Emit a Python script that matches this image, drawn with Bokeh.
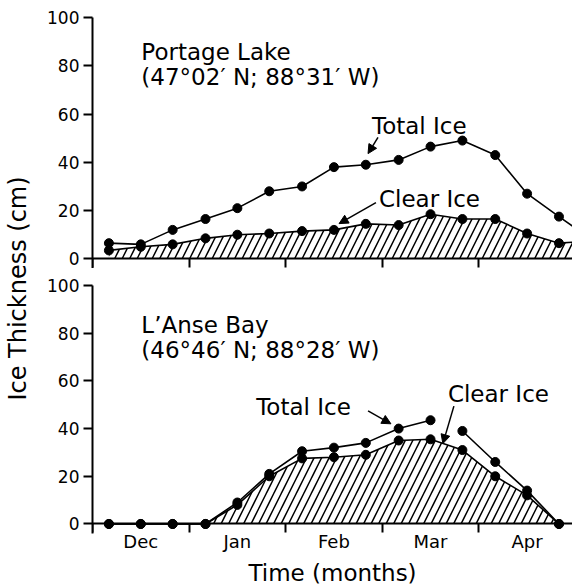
import math
from bokeh.plotting import figure
from bokeh.layouts import row, column
from bokeh.models import (Range1d, LinearAxis, FixedTicker, Label, Arrow,
                          NormalHead, ColumnDataSource)
from bokeh.core.properties import value
from bokeh.embed import file_html
from bokeh.resources import INLINE

FONT = "DejaVu Sans"

# sampling dates in months after 1 December (about the 5th, 15th, 25th of each month)
x_months = [0.17, 0.5, 0.83, 1.17, 1.5, 1.83, 2.17, 2.5, 2.83, 3.17, 3.5, 3.83, 4.17, 4.5, 4.83]
x_portage = x_months + [5.17]

# Portage Lake ice thickness (cm)
portage_total = [6.5, 6, 12, 16.5, 21, 28, 30, 38, 39, 41, 46.5, 49, 43, 27, 17.5, 8]
portage_clear = [3.5, 5, 6, 8.5, 10, 10.5, 11.5, 12, 14.5, 14, 18.5, 16.5, 16.5, 10.5, 6.5, 7.5]

# L'Anse Bay ice thickness (cm)
lanse_total = [0, 0, 0, 0, 9, 21, 30.5, 32, 34, 40, 43.5, 39, 26, 14, 0]
lanse_clear = [0, 0, 0, 0, 8, 20, 27.5, 28, 29, 35, 35.5, 31, 20, 12, 0]

month_names = ["Dec", "Jan", "Feb", "Mar", "Apr"]
month_centers = [0.5, 1.5, 2.5, 3.5, 4.5]
month_bounds = [0, 1, 2, 3, 4, 5]
y_ticks = [0, 20, 40, 60, 80, 100]


def make_panel(h, top, bottom, xs, total, clear, is_bottom, split=None):
    p = figure(width=528, height=h, x_range=Range1d(0, 4.97), y_range=Range1d(-4, 100),
               x_axis_type=None, y_axis_type=None, output_backend="svg",
               toolbar_location=None, min_border_left=47, min_border_right=0,
               min_border_top=top, min_border_bottom=bottom)
    p.outline_line_color = None
    p.background_fill_color = "white"
    p.border_fill_color = "white"

    yax = LinearAxis(ticker=FixedTicker(ticks=y_ticks),
                     axis_line_width=2, axis_line_color="black",
                     major_tick_out=9, major_tick_in=0, major_tick_line_width=2,
                     minor_tick_out=0, minor_tick_in=0,
                     major_label_standoff=4, major_label_text_font=FONT,
                     major_label_text_font_size="17px", major_label_text_color="black")
    p.add_layout(yax, "left")

    # zero line with month-boundary ticks
    zax = LinearAxis(fixed_location=0,
                     ticker=FixedTicker(ticks=[], minor_ticks=month_bounds),
                     axis_line_width=2, axis_line_color="black",
                     major_tick_out=0, major_tick_in=0,
                     minor_tick_line_width=2, minor_tick_line_color="black")
    if is_bottom:
        zax.minor_tick_out = 0
        zax.minor_tick_in = 9
        p.add_layout(zax, "above")
        lax = LinearAxis(ticker=FixedTicker(ticks=month_centers),
                         axis_line_color=None, major_tick_line_color=None,
                         major_tick_out=0, major_tick_in=0,
                         minor_tick_out=0, minor_tick_in=0,
                         major_label_overrides={c: n for c, n in zip(month_centers, month_names)},
                         major_label_text_font=FONT, major_label_text_font_size="18px",
                         major_label_text_color="black", major_label_standoff=-3,
                         axis_label="Time (months)", axis_label_text_font=FONT,
                         axis_label_text_font_size="23px", axis_label_text_font_style="normal",
                         axis_label_text_color="black", axis_label_standoff=5)
        p.add_layout(lax, "below")
    else:
        zax.minor_tick_out = 9
        zax.minor_tick_in = 0
        p.add_layout(zax, "below")

    src = ColumnDataSource(dict(x=xs, total=total, clear=clear))
    p.varea(x="x", y1=0, y2="clear", source=src, fill_color=None,
            hatch_pattern="/", hatch_color="black", hatch_scale=15, hatch_weight=1.5)
    p.line("x", "clear", source=src, line_color="black", line_width=1.6)
    if split is None:
        p.line("x", "total", source=src, line_color="black", line_width=1.6)
    else:
        p.line(xs[:split], total[:split], line_color="black", line_width=1.6)
        p.line(xs[split:], total[split:], line_color="black", line_width=1.6)
    p.scatter("x", "clear", source=src, size=9, color="black")
    p.scatter("x", "total", source=src, size=9, color="black")
    return p


def add_text(p, x, y, t):
    p.add_layout(Label(x=x, y=y, text=t, text_font=FONT, text_font_size="23px",
                       text_color="black", text_align="left", text_baseline="alphabetic"))


def add_arrow(p, xs, ys, xe, ye):
    p.add_layout(Arrow(end=NormalHead(size=9, fill_color="black", line_color="black"),
                       x_start=xs, y_start=ys, x_end=xe, y_end=ye,
                       line_color="black", line_width=1.5))


top = make_panel(268, 17, 0, x_portage, portage_total, portage_clear, False)
add_text(top, 0.506, 85.6, "Portage Lake")
add_text(top, 0.506, 75.4, "(47°02′ N; 88°31′ W)")
add_text(top, 2.894, 55.0, "Total Ice")
add_text(top, 2.966, 24.9, "Clear Ice")
add_arrow(top, 2.956, 50.3, 2.853, 43.6)
add_arrow(top, 2.935, 23.3, 2.553, 14.6)

bot = make_panel(320, 17, 52, x_months, lanse_total, lanse_clear, True, split=11)
add_text(bot, 0.506, 83.4, "L’Anse Bay")
add_text(bot, 0.506, 73.1, "(46°46′ N; 88°28′ W)")
add_text(bot, 1.695, 49.0, "Total Ice")
add_text(bot, 3.68, 54.3, "Clear Ice")
add_arrow(bot, 2.853, 47.4, 3.09, 42.0)
add_arrow(bot, 3.742, 49.4, 3.628, 33.7)

lab = figure(width=44, height=588, x_range=Range1d(0, 44), y_range=Range1d(0, 588),
             x_axis_type=None, y_axis_type=None, min_border=0,
             output_backend="svg", toolbar_location=None)
lab.outline_line_color = None
lab.text(x=[17], y=[300], text=["Ice Thickness (cm)"], angle=math.pi / 2,
         text_align="center", text_baseline="alphabetic",
         text_font=value(FONT), text_font_size="24px", text_color="black")

layout = row(lab, column(top, bot))
open("out.html", "w").write(file_html(layout, INLINE))
